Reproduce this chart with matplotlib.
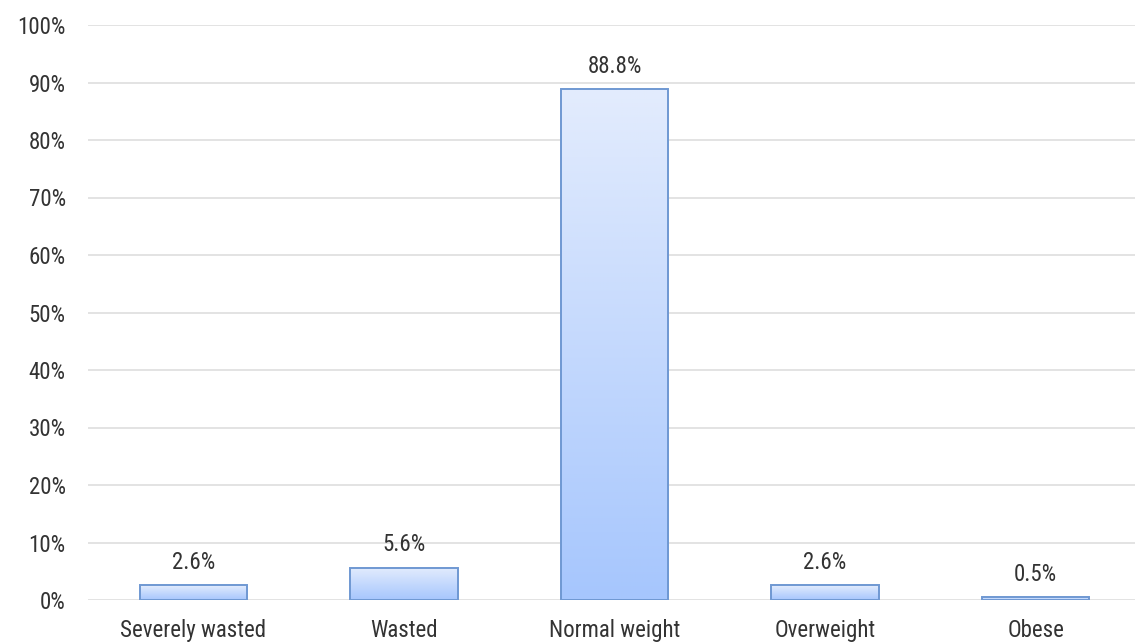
import numpy as np
import matplotlib.pyplot as plt
from matplotlib.patches import Rectangle
from matplotlib.ticker import PercentFormatter
from matplotlib import font_manager

categories = ["Severely wasted", "Wasted", "Normal weight", "Overweight", "Obese"]
shares = [2.6, 5.6, 88.8, 2.6, 0.5]
value_labels = ["2.6%", "5.6%", "88.8%", "2.6%", "0.5%"]
y_ticks = list(range(0, 101, 10))

# prefer a narrow face if one is available
names = {f.name for f in font_manager.fontManager.ttflist}
family = [n for n in ["Liberation Sans Narrow", "Roboto Condensed", "DejaVu Sans Condensed", "Open Sans Condensed"] if n in names]
plt.rcParams["font.family"] = family + ["DejaVu Sans"]
text_color = "#333333"
fs = 16.5

fig = plt.figure(figsize=(11.35, 6.43), dpi=100)
ax = fig.add_axes([88 / 1135, 43 / 643, 1 - 88 / 1135, 575 / 643])

x = np.arange(len(categories))
width = 0.51
bars = ax.bar(x, shares, width, color="none", edgecolor="#6f98d2", linewidth=1.4, zorder=3)

# vertical gradient inside each bar, light at the top and deeper blue at the base
grad = np.linspace(0, 1, 256).reshape(-1, 1)
cmap = plt.matplotlib.colors.LinearSegmentedColormap.from_list("barfill", ["#a6c6fd", "#e3ecfd"])
for b in bars:
    x0, h = b.get_x(), b.get_height()
    im = ax.imshow(grad, cmap=cmap, aspect="auto", origin="lower",
                   extent=(x0, x0 + width, 0, h), zorder=2)
    im.set_clip_path(Rectangle((x0, 0), width, h, transform=ax.transData))

for xi, v, lab in zip(x, shares, value_labels):
    ax.text(xi, v + 2.0, lab, ha="center", va="bottom", fontsize=fs, color=text_color)

ax.set_xlim(-0.5, (1135 - 88) / 210.6 - 0.5)
ax.set_ylim(0, 100)
ax.set_yticks(y_ticks)
ax.yaxis.set_major_formatter(PercentFormatter(decimals=0))
ax.set_xticks(x)
ax.set_xticklabels(categories)
ax.tick_params(length=0, labelsize=fs, colors=text_color)
ax.tick_params(axis="y", pad=16)
ax.tick_params(axis="x", pad=14)
ax.grid(axis="y", color="#dedede", linewidth=1.2, zorder=0)
for s in ax.spines.values():
    s.set_visible(False)

fig.savefig("out.png", dpi=100)
